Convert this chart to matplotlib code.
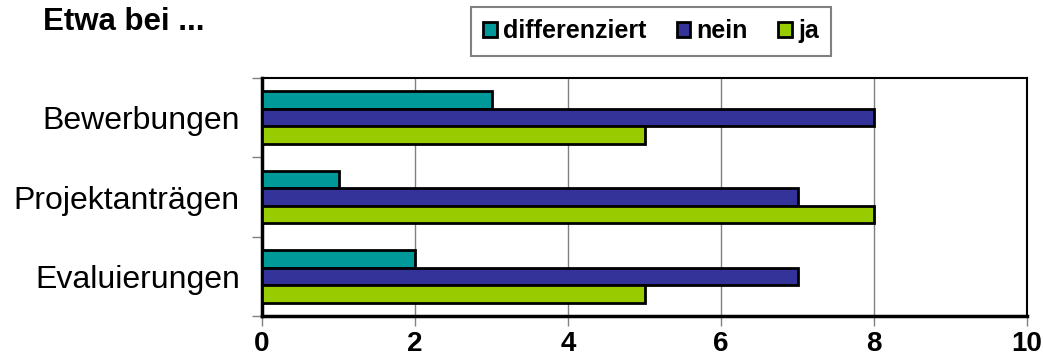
import matplotlib
matplotlib.use("Agg")
import matplotlib.pyplot as plt
import numpy as np

plt.rcParams['font.family'] = ['Liberation Sans', 'DejaVu Sans']

categories = ["Bewerbungen", "Projektanträgen", "Evaluierungen"]
series = ["differenziert", "nein", "ja"]
differenziert = [3, 1, 2]
nein = [8, 7, 7]
ja = [5, 8, 5]
colors = ["#009999", "#333399", "#99CC00"]
x_ticks = [0, 2, 4, 6, 8, 10]

fig = plt.figure(figsize=(10.43, 3.61), dpi=100)
ax = fig.add_axes([262 / 1043, 1 - 316 / 361, (1027 - 262) / 1043, (316 - 78) / 361])

y = np.arange(len(categories))
h = 0.22
for i, (vals, col, name) in enumerate(zip([differenziert, nein, ja], colors, series)):
    ax.barh(y + (i - 1) * h, vals, height=h, color=col, edgecolor="black",
            linewidth=2, label=name, zorder=3)

ax.set_xlim(0, 10)
ax.set_ylim(len(categories) - 0.5, -0.5)
ax.set_xticks(x_ticks)
ax.set_xticklabels([str(t) for t in x_ticks], fontsize=20, fontweight="bold")
ax.grid(axis="x", color="#808080", linewidth=1, zorder=0)

# category labels sit between the boundary ticks
ax.set_yticks(y)
ax.set_yticklabels(categories, fontsize=23)
ax.tick_params(axis="y", length=0, pad=16)
ax.set_yticks(np.arange(-0.5, len(categories)), minor=True)
ax.tick_params(axis="y", which="minor", length=7, color="#808080", width=1)
ax.tick_params(axis="x", length=7, color="#808080", width=1, pad=4)

for side in ["left", "bottom"]:
    ax.spines[side].set_linewidth(2.5)
for side in ["top", "right"]:
    ax.spines[side].set_linewidth(1.5)

fig.text(43 / 1043, 1 - 22 / 361, "Etwa bei ...", fontsize=22.5, fontweight="bold",
         va="center", ha="left")

leg = fig.legend(loc="center", bbox_to_anchor=(651 / 1043, 1 - 31 / 361), ncol=3,
                 frameon=True, fancybox=False, edgecolor="#606060",
                 prop={"size": 18, "weight": "bold"}, handlelength=0.55,
                 handleheight=0.55, handletextpad=0.25, columnspacing=1.2,
                 borderpad=0.5)
leg.get_frame().set_linewidth(1.5)
for p in leg.get_patches():
    p.set_linewidth(2)

fig.savefig("out.png", dpi=100)
